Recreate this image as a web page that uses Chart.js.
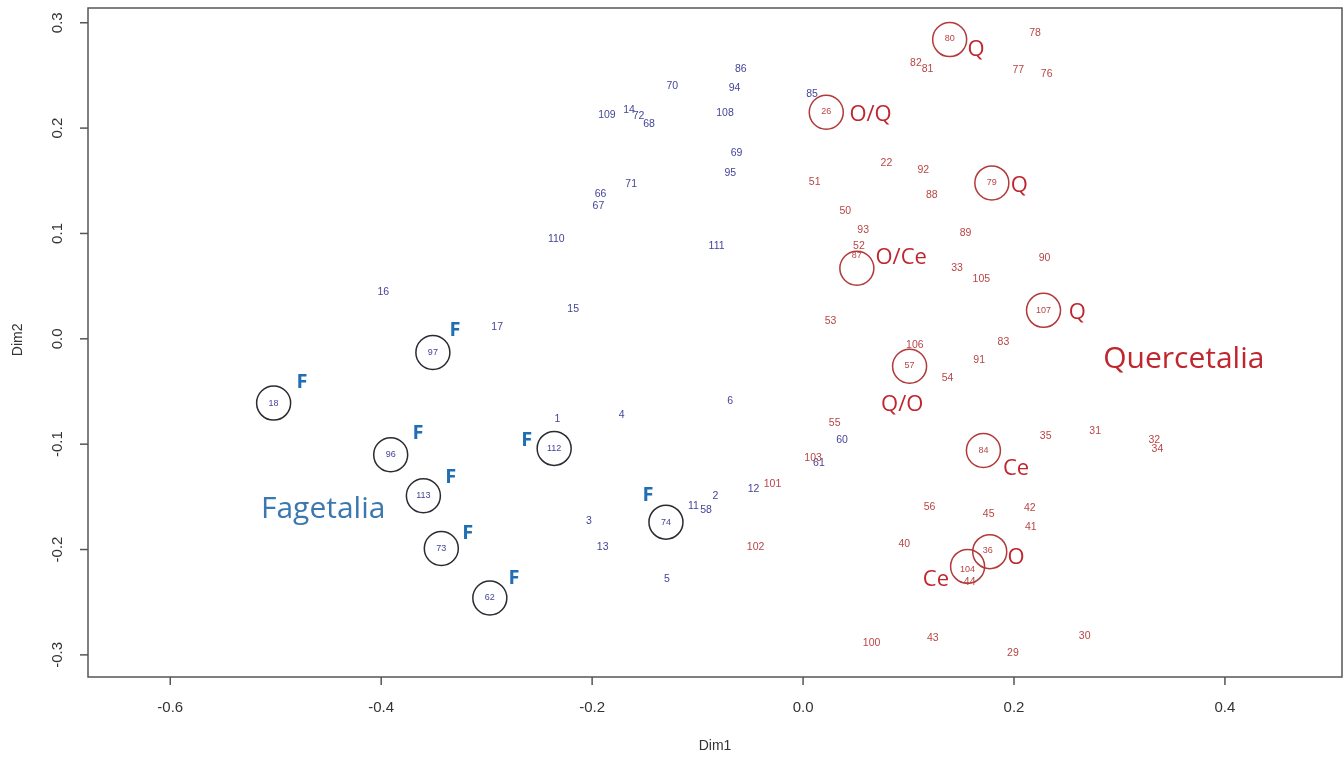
<!DOCTYPE html>
<html>
<head>
<meta charset="utf-8">
<script src="https://cdn.jsdelivr.net/npm/chart.js@4.4.1/dist/chart.umd.min.js"></script>
<style>
  html, body { margin: 0; padding: 0; background: #fff; }
  #wrap { width: 1344px; height: 758px; }
</style>
</head>
<body>
<div id="wrap"><canvas id="ordChart" width="1344" height="758"></canvas></div>
<script>
// releves plotted in blue (Fagetalia side)
const blueIds = ['86','70','94','85','109','14','72','68','108','69','95','71','66','67','110','111',
  '16','17','15','6','1','4','60','61','12','2','11','58','3','13','5'];
const blueX = [-0.059,-0.124,-0.065,0.0085,-0.186,-0.165,-0.156,-0.146,-0.074,-0.063,-0.069,-0.163,-0.192,-0.194,-0.234,-0.082,
  -0.398,-0.290,-0.218,-0.069,-0.233,-0.172,0.037,0.015,-0.047,-0.083,-0.104,-0.092,-0.203,-0.190,-0.129];
const blueY = [0.256,0.240,0.238,0.232,0.212,0.217,0.211,0.204,0.214,0.176,0.157,0.147,0.137,0.126,0.095,0.088,
  0.044,0.011,0.028,-0.059,-0.076,-0.072,-0.096,-0.118,-0.143,-0.149,-0.159,-0.163,-0.173,-0.198,-0.228];

// circled blue releves
const blueCircIds = ['97','18','112','96','113','74','73','62'];
const blueCircX = [-0.351,-0.502,-0.236,-0.391,-0.360,-0.130,-0.343,-0.297];
const blueCircY = [-0.013,-0.061,-0.104,-0.110,-0.149,-0.174,-0.199,-0.246];

// releves plotted in red (Quercetalia side)
const redIds = ['78','82','81','77','76','22','92','51','88','50','93','89','52','90','33','105','53','106','83','91','54',
  '55','35','31','32','34','103','101','56','45','42','41','102','40','44','100','43','30','29'];
const redX = [0.220,0.107,0.118,0.204,0.231,0.079,0.114,0.011,0.122,0.040,0.057,0.154,0.053,0.229,0.146,0.169,0.026,0.106,0.190,0.167,0.137,
  0.030,0.230,0.277,0.333,0.336,0.0095,-0.029,0.120,0.176,0.215,0.216,-0.045,0.096,0.158,0.065,0.123,0.267,0.199];
const redY = [0.290,0.262,0.256,0.255,0.251,0.167,0.160,0.149,0.136,0.121,0.103,0.100,0.088,0.077,0.067,0.057,0.017,-0.006,-0.003,-0.020,-0.037,
  -0.080,-0.092,-0.088,-0.096,-0.105,-0.113,-0.138,-0.160,-0.166,-0.161,-0.179,-0.198,-0.195,-0.231,-0.289,-0.284,-0.282,-0.298];

// circled red releves (label position)
const redCircIds = ['80','26','79','87','107','57','84','36','104'];
const redCircX = [0.139,0.022,0.179,0.051,0.228,0.101,0.171,0.175,0.156];
const redCircY = [0.285,0.216,0.148,0.079,0.027,-0.025,-0.106,-0.201,-0.219];
// ring centres
const ringBlackX = blueCircX;
const ringBlackY = blueCircY;
const ringRedX = [0.139,0.022,0.179,0.051,0.228,0.101,0.171,0.177,0.156];
const ringRedY = [0.284,0.215,0.148,0.067,0.027,-0.026,-0.106,-0.202,-0.216];

// "F" marks
const fX = [-0.330,-0.475,-0.365,-0.334,-0.318,-0.274,-0.262,-0.147];
const fY = [0.0085,-0.041,-0.090,-0.131,-0.185,-0.227,-0.096,-0.149];

// red annotations
const noteText = ['Q','O/Q','Q','O/Ce','Q','Q/O','Ce','O','Ce'];
const noteX = [0.164,0.064,0.205,0.093,0.260,0.094,0.202,0.202,0.126];
const noteY = [0.274,0.213,0.145,0.077,0.025,-0.063,-0.123,-0.208,-0.229];

// group names
const groupText = ['Fagetalia','Quercetalia'];
const groupX = [-0.455,0.361];
const groupY = [-0.162,-0.020];

const xTicks = [-0.6,-0.4,-0.2,0.0,0.2,0.4];
const yTicks = [-0.3,-0.2,-0.1,0.0,0.1,0.2,0.3];

const pts = (xs, ys) => xs.map((x, i) => ({ x: x, y: ys[i] }));

function textSet(xs, ys, texts, font, color) {
  return { data: pts(xs, ys), texts: texts, textFont: font, textColor: color,
    pointRadius: 0, pointHoverRadius: 0, showLine: false };
}

const textPlugin = {
  id: 'textLabels',
  afterDatasetsDraw(chart) {
    const ctx = chart.ctx;
    chart.data.datasets.forEach((ds, i) => {
      if (!ds.texts) return;
      const meta = chart.getDatasetMeta(i);
      ctx.save();
      ctx.font = ds.textFont;
      ctx.fillStyle = ds.textColor;
      ctx.textAlign = 'center';
      ctx.textBaseline = 'middle';
      meta.data.forEach((pt, j) => ctx.fillText(ds.texts[j], pt.x, pt.y));
      ctx.restore();
    });
  }
};

// R style box, outward ticks, rotated y labels
const axisPlugin = {
  id: 'rAxes',
  afterDraw(chart) {
    const ctx = chart.ctx;
    const a = chart.chartArea;
    const xs = chart.scales.x, ys = chart.scales.y;
    ctx.save();
    ctx.strokeStyle = '#555';
    ctx.lineWidth = 1.5;
    ctx.strokeRect(a.left, a.top, a.right - a.left, a.bottom - a.top);
    ctx.fillStyle = '#333';
    ctx.font = '15px "Liberation Sans", Arial, sans-serif';
    ctx.textAlign = 'center';
    ctx.textBaseline = 'middle';
    xTicks.forEach(v => {
      const px = xs.getPixelForValue(v);
      ctx.beginPath(); ctx.moveTo(px, a.bottom); ctx.lineTo(px, a.bottom + 8); ctx.stroke();
      ctx.fillText(v.toFixed(1), px, 708);
    });
    yTicks.forEach(v => {
      const py = ys.getPixelForValue(v);
      ctx.beginPath(); ctx.moveTo(a.left, py); ctx.lineTo(a.left - 8, py); ctx.stroke();
      ctx.save();
      ctx.translate(58, py);
      ctx.rotate(-Math.PI / 2);
      ctx.fillText(v.toFixed(1), 0, 0);
      ctx.restore();
    });
    ctx.font = '14px "Liberation Sans", Arial, sans-serif';
    ctx.fillText('Dim1', (a.left + a.right) / 2, 746);
    ctx.save();
    ctx.translate(18, ys.getPixelForValue(0) + 1);
    ctx.rotate(-Math.PI / 2);
    ctx.fillText('Dim2', 0, 0);
    ctx.restore();
    ctx.restore();
  }
};

const ord_chart = document.getElementById('ordChart');
new Chart(ord_chart, {
  type: 'scatter',
  data: {
    datasets: [
      { data: pts(ringBlackX, ringBlackY), pointRadius: 17, pointHoverRadius: 17, pointStyle: 'circle',
        backgroundColor: 'rgba(0,0,0,0)', borderColor: '#2b2b33', borderWidth: 1.5 },
      { data: pts(ringRedX, ringRedY), pointRadius: 17, pointHoverRadius: 17, pointStyle: 'circle',
        backgroundColor: 'rgba(0,0,0,0)', borderColor: '#b23a3a', borderWidth: 1.5 },
      textSet(blueX, blueY, blueIds, '10.5px "Liberation Sans", Arial, sans-serif', '#44449a'),
      textSet(blueCircX, blueCircY, blueCircIds, '9px "Liberation Sans", Arial, sans-serif', '#44449a'),
      textSet(redX, redY, redIds, '10.5px "Liberation Sans", Arial, sans-serif', '#b84444'),
      textSet(redCircX, redCircY, redCircIds, '9px "Liberation Sans", Arial, sans-serif', '#b84444'),
      textSet(fX, fY, fX.map(() => 'F'), 'bold 20px "Open Sans", sans-serif', '#1f6fb2'),
      textSet(noteX, noteY, noteText, '22px "Open Sans", sans-serif', '#c0262e'),
      textSet([groupX[0]], [groupY[0]], [groupText[0]], '30px "Open Sans", sans-serif', '#3b78b0'),
      textSet([groupX[1]], [groupY[1]], [groupText[1]], '30px "Open Sans", sans-serif', '#c0262e')
    ]
  },
  options: {
    responsive: false,
    animation: false,
    events: [],
    layout: { autoPadding: false, padding: { left: 0, top: 8, right: 2, bottom: 0 } },
    plugins: {
      legend: { display: false },
      tooltip: { enabled: false }
    },
    scales: {
      x: {
        type: 'linear', min: -0.678, max: 0.511,
        grid: { display: false }, border: { display: false },
        ticks: { display: false },
        afterFit(scale) { scale.height = 81; }
      },
      y: {
        type: 'linear', min: -0.321, max: 0.314,
        grid: { display: false }, border: { display: false },
        ticks: { display: false },
        afterFit(scale) { scale.width = 88; }
      }
    }
  },
  plugins: [textPlugin, axisPlugin]
});
</script>
</body>
</html>
